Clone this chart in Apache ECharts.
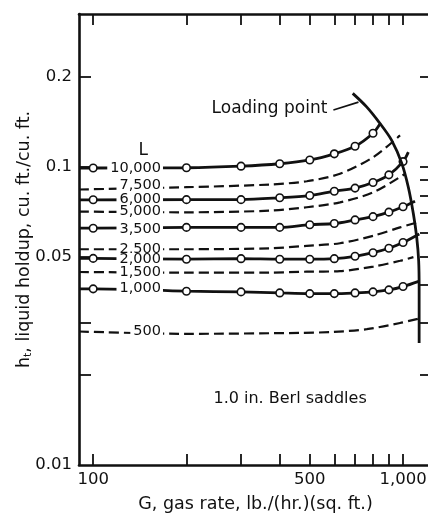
<!DOCTYPE html>
<html>
<head>
<meta charset="utf-8">
<script src="https://cdn.jsdelivr.net/npm/echarts@6/dist/echarts.min.js"></script>
<style>
html,body{margin:0;padding:0;background:#fff;}
#chart{width:428px;height:514px;}
</style>
</head>
<body>
<div id="chart"></div>
<script>
// ---- axis ticks / labels ----
const xTickValues = [100, 200, 300, 400, 500, 600, 700, 800, 900, 1000];
const xLabelValues = [100, 500, 1000];
const xLabelTexts = ['100', '500', '1,000'];
const yLabelValues = [0.01, 0.05, 0.1, 0.2];
const yLabelTexts = ['0.01', '0.05', '0.1', '0.2'];
const yTickLeft = [0.02, 0.03, 0.05, 0.1, 0.2];
const yTickRight = [0.02, 0.03, 0.04, 0.05, 0.06, 0.07, 0.08, 0.09, 0.1, 0.2];

// ---- solid curves (measured, circles at G = 100..1000) ----
const g10000 = [90, 100, 200, 300, 400, 500, 600, 700, 800, 843];
const h10000 = [0.0988, 0.0988, 0.0990, 0.1002, 0.1021, 0.1051, 0.1102, 0.1168, 0.1292, 0.1390];
const g6000 = [90, 100, 200, 300, 400, 500, 600, 700, 800, 900, 1000, 1040];
const h6000 = [0.0773, 0.0773, 0.0774, 0.0774, 0.0785, 0.0799, 0.0826, 0.0846, 0.0883, 0.0937, 0.1038, 0.1117];
const g3500 = [90, 100, 200, 300, 400, 500, 600, 700, 800, 900, 1000, 1093];
const h3500 = [0.0621, 0.0621, 0.0625, 0.0625, 0.0625, 0.0638, 0.0644, 0.0662, 0.0679, 0.0703, 0.0733, 0.0765];
const g2000 = [90, 100, 200, 300, 400, 500, 600, 700, 800, 900, 1000, 1128];
const h2000 = [0.0492, 0.0492, 0.0489, 0.0491, 0.0489, 0.0489, 0.0491, 0.0500, 0.0514, 0.0532, 0.0556, 0.0594];
const g1000 = [90, 100, 200, 300, 400, 500, 600, 700, 800, 900, 1000, 1130];
const h1000 = [0.0389, 0.0389, 0.0382, 0.0380, 0.0377, 0.0375, 0.0375, 0.0377, 0.0380, 0.0386, 0.0396, 0.0413];

// ---- dashed curves ----
const g7500 = [90, 200, 372, 489, 626, 802, 978];
const h7500 = [0.0837, 0.0852, 0.0870, 0.0892, 0.0945, 0.1075, 0.1270];
const g5000 = [90, 200, 372, 489, 626, 802, 1016];
const h5000 = [0.0706, 0.0702, 0.0711, 0.0730, 0.0758, 0.0819, 0.0945];
const g2500 = [90, 200, 372, 489, 626, 802, 978, 1107];
const h2500 = [0.0528, 0.0528, 0.0532, 0.0542, 0.0553, 0.0586, 0.0625, 0.0649];
const g1500 = [90, 200, 372, 489, 626, 802, 978, 1080];
const h1500 = [0.0443, 0.0441, 0.0441, 0.0444, 0.0446, 0.0462, 0.0483, 0.0497];
const g500 = [90, 200, 465, 596, 764, 978, 1120];
const h500 = [0.0280, 0.0275, 0.0277, 0.0279, 0.0285, 0.0299, 0.0309];

// ---- loading point curve ----
const gLoad = [688, 763, 843, 919, 990, 1040, 1080, 1107, 1123, 1127, 1127, 1127];
const hLoad = [0.1757, 0.1583, 0.1392, 0.1223, 0.1026, 0.0852, 0.0693, 0.0578, 0.0483, 0.0392, 0.0311, 0.0256];

// ---- curve labels (L values) ----
const curveNames = ['10,000', '7,500', '6,000', '5,000', '3,500', '2,500', '2,000', '1,500', '1,000', '500'];
const curveLabelH = [0.0990, 0.0863, 0.0774, 0.0707, 0.0614, 0.0530, 0.0490, 0.0441, 0.0392, 0.0281];

const FONT = 'DejaVu Sans';
const INK = '#111';

function lookup(vals, texts, v) {
  for (let i = 0; i < vals.length; i++) {
    if (Math.abs(Math.log10(vals[i]) - Math.log10(v)) < 1e-6) return texts[i];
  }
  return '';
}

function solidSeries(g, h) {
  return {
    type: 'line',
    data: g.map((x, i) => ({
      value: [x, h[i]],
      symbol: (i === 0 || i === g.length - 1) ? 'none' : 'circle'
    })),
    smooth: 0.3,
    showSymbol: true,
    symbolSize: 7.5,
    itemStyle: { color: '#fff', borderColor: INK, borderWidth: 1.6 },
    lineStyle: { color: INK, width: 2.8 },
    z: 4,
    silent: true
  };
}

function dashedSeries(g, h) {
  return {
    type: 'line',
    data: g.map((x, i) => [x, h[i]]),
    smooth: 0.3,
    symbol: 'none',
    lineStyle: { color: INK, width: 2.2, type: [10, 5] },
    z: 3,
    silent: true
  };
}

function textSeries(points, labelOpts) {
  return {
    type: 'scatter',
    symbolSize: 0,
    data: points,
    silent: true,
    z: 10,
    itemStyle: { opacity: 1 },
    label: Object.assign({ show: true, color: INK, opacity: 1, fontFamily: FONT }, labelOpts)
  };
}

const axisLineStyle = { color: INK, width: 2.6 };
const tickStyle = { color: INK, width: 1.8 };

const option = {
  animation: false,
  backgroundColor: '#fff',
  grid: { left: 79, top: 14, right: -4, bottom: 49, containLabel: false, outerBoundsMode: 'none' },
  xAxis: [
    {
      type: 'log', position: 'bottom', min: 90, max: 1240,
      axisLine: { onZero: false, lineStyle: axisLineStyle },
      axisTick: { inside: true, length: 11, customValues: xTickValues, lineStyle: tickStyle },
      minorTick: { show: false },
      splitLine: { show: false },
      axisLabel: {
        customValues: xLabelValues, margin: 6, color: INK, fontFamily: FONT, fontSize: 16.5,
        formatter: v => lookup(xLabelValues, xLabelTexts, v)
      },
      name: 'G, gas rate, lb./(hr.)(sq. ft.)',
      nameLocation: 'middle', nameGap: 30, nameMoveOverlap: false,
      nameTextStyle: { color: INK, fontFamily: FONT, fontSize: 17.5 }
    },
    {
      type: 'log', position: 'top', min: 90, max: 1240,
      axisLine: { onZero: false, lineStyle: axisLineStyle },
      axisTick: { inside: true, length: 11, customValues: xTickValues, lineStyle: tickStyle },
      splitLine: { show: false },
      axisLabel: { show: false }
    }
  ],
  yAxis: [
    {
      type: 'log', position: 'left', min: 0.01, max: 0.324,
      axisLine: { onZero: false, lineStyle: axisLineStyle },
      axisTick: { inside: true, length: 12, customValues: yTickLeft, lineStyle: tickStyle },
      splitLine: { show: false },
      axisLabel: {
        customValues: yLabelValues, margin: 7, color: INK, fontFamily: FONT, fontSize: 16.5,
        formatter: v => lookup(yLabelValues, yLabelTexts, v)
      },
      name: '{b|h}{s|t}{b|, liquid holdup, cu. ft./cu. ft.}',
      nameLocation: 'middle', nameGap: 45, nameMoveOverlap: false,
      nameTextStyle: {
        color: INK, fontFamily: FONT, fontSize: 17.5,
        rich: {
          b: { fontFamily: FONT, fontSize: 17.5, color: INK, lineHeight: 20 },
          s: { fontFamily: FONT, fontSize: 11, color: INK, lineHeight: 11, verticalAlign: 'bottom' }
        }
      }
    },
    {
      type: 'log', position: 'right', min: 0.01, max: 0.324,
      axisLine: { onZero: false, lineStyle: axisLineStyle },
      axisTick: { inside: true, length: 12, customValues: yTickRight, lineStyle: tickStyle },
      splitLine: { show: false },
      axisLabel: { show: false }
    }
  ],
  series: [
    {
      type: 'line',
      data: gLoad.map((x, i) => [x, hLoad[i]]),
      smooth: 0.3,
      symbol: 'none',
      lineStyle: { color: INK, width: 2.8 },
      z: 5,
      silent: true,
      markLine: {
        silent: true,
        symbol: ['none', 'arrow'],
        symbolSize: [0, 9],
        label: { show: false },
        lineStyle: { color: INK, width: 1.6, type: 'solid' },
        data: [[{ coord: [596, 0.1544] }, { coord: [718, 0.1642] }]]
      }
    },
    solidSeries(g10000, h10000),
    dashedSeries(g7500, h7500),
    solidSeries(g6000, h6000),
    dashedSeries(g5000, h5000),
    solidSeries(g3500, h3500),
    dashedSeries(g2500, h2500),
    solidSeries(g2000, h2000),
    dashedSeries(g1500, h1500),
    solidSeries(g1000, h1000),
    dashedSeries(g500, h500),
    textSeries(curveNames.map((n, i) => ({ value: [168, curveLabelH[i]], name: n })), {
      position: 'left', distance: 0, fontSize: 14.5, formatter: p => p.name,
      backgroundColor: '#fff', padding: [0, 2, 0, 3], lineHeight: 12
    }),
    textSeries([{ value: [145, 0.1132], name: 'L' }], {
      position: 'inside', fontSize: 17, formatter: p => p.name
    }),
    textSeries([{ value: [596, 0.1567], name: 'Loading point' }], {
      position: 'left', distance: 6, fontSize: 17, formatter: p => p.name
    }),
    textSeries([{ value: [432, 0.0167], name: '1.0 in. Berl saddles' }], {
      position: 'inside', fontSize: 16, formatter: p => p.name
    })
  ]
};

const chart = echarts.init(document.getElementById('chart'), null, { renderer: 'canvas' });
chart.setOption(option);
</script>
</body>
</html>
